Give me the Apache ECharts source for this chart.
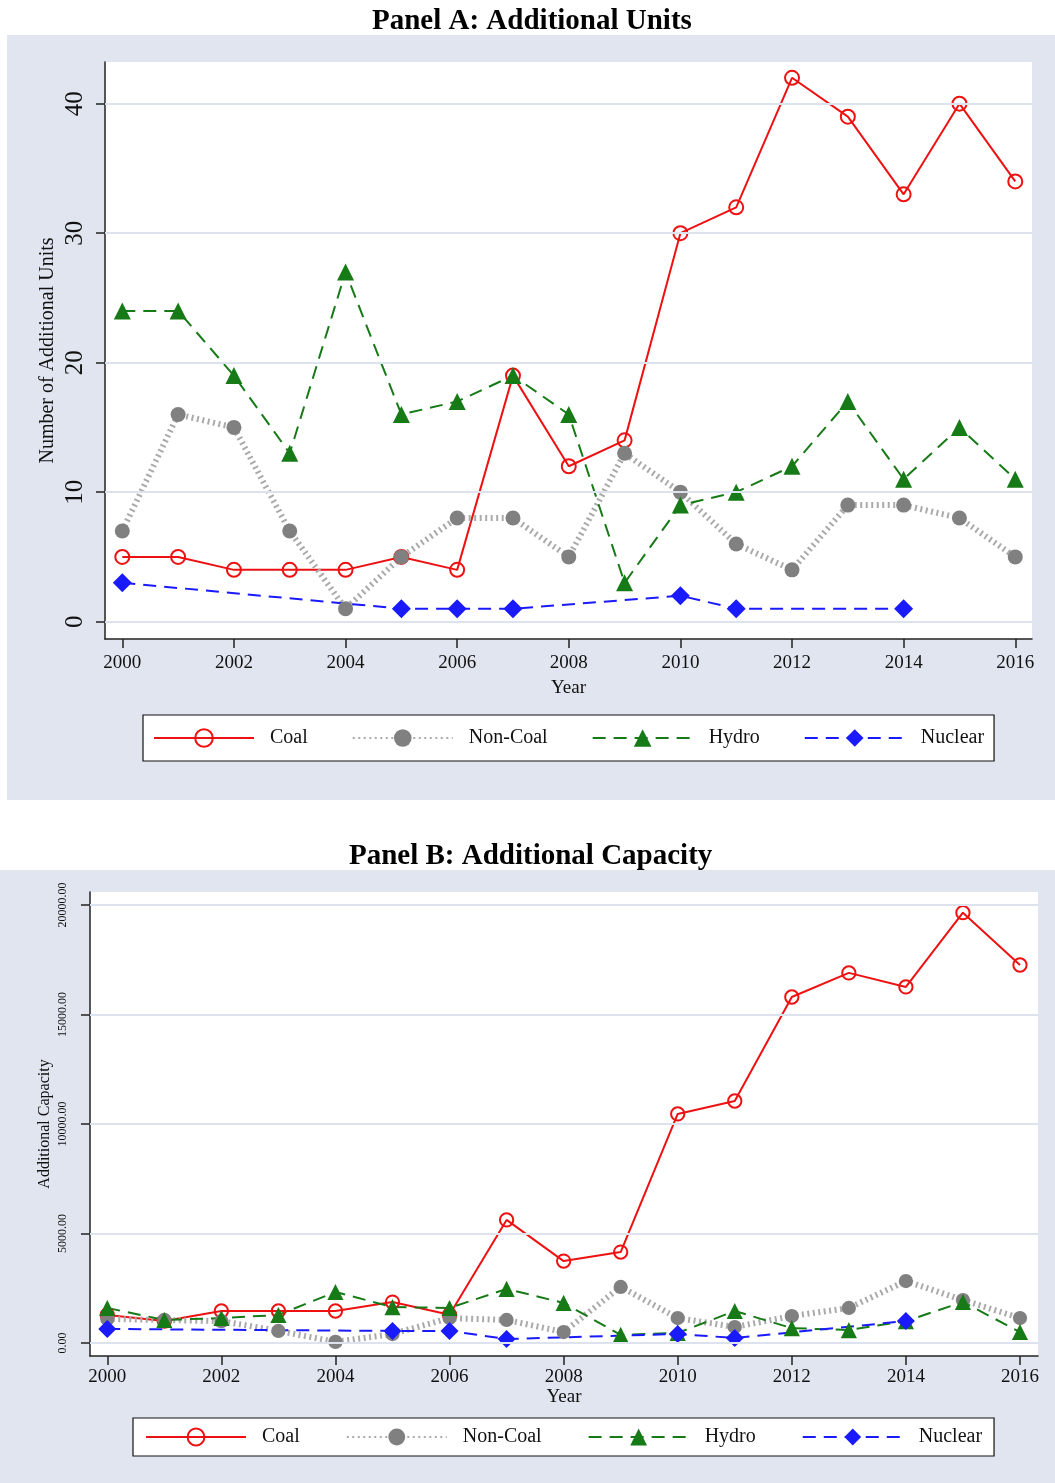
<!DOCTYPE html>
<html><head><meta charset="utf-8">
<script src="https://cdn.jsdelivr.net/npm/echarts@6/dist/echarts.min.js"></script>
<style>html,body{margin:0;padding:0;background:#fff}#c{width:1055px;height:1483px}</style>
</head><body><div id="c"></div>
<script>
const years = [2000,2001,2002,2003,2004,2005,2006,2007,2008,2009,2010,2011,2012,2013,2014,2015,2016];
const xTickLabels = [2000,2002,2004,2006,2008,2010,2012,2014,2016];
const unitsTicks = [0,10,20,30,40];
const capTicks = [0,5000,10000,15000,20000];
const seriesNames = ['Coal','Non-Coal','Hydro','Nuclear'];

// Panel A: Additional Units
const unitsCoal    = [5,5,4,4,4,5,4,19,12,14,30,32,42,39,33,40,34];
const unitsNonCoal = [7,16,15,7,1,5,8,8,5,13,10,6,4,9,9,8,5];
const unitsHydro   = [24,24,19,13,27,16,17,19,16,3,9,10,12,17,11,15,11];
const unitsNuclear = [3,null,null,null,null,1,1,1,null,null,2,1,null,null,1,null,null];

// Panel B: Additional Capacity
const capCoal    = [1280,1000,1460,1460,1460,1870,1290,5620,3740,4150,10460,11050,15800,16900,16260,19650,17260];
const capNonCoal = [1100,1050,1000,550,50,410,1140,1050,500,2560,1140,730,1230,1600,2830,1960,1140];
const capHydro   = [1600,1050,1140,1280,2330,1640,1600,2470,1830,370,460,1460,680,590,1000,1870,500];
const capNuclear = [640,null,null,null,null,550,550,180,null,null,410,230,null,null,1000,null,null];

const FONT = 'Liberation Serif';
const GRIDC = '#dde3ee';
const BG = '#e0e5ef';

function pairs(vals){ return years.map((y,i)=>[y, vals[i]]); }

function coal(idx, vals, s){ return {type:'line', name:'Coal', xAxisIndex:idx, yAxisIndex:idx, data:pairs(vals), connectNulls:true, z:3,
  symbol:'circle', symbolSize:14*s,
  itemStyle:{color:'rgba(0,0,0,0)', borderColor:'#ee1111', borderWidth:2},
  lineStyle:{color:'#ee1111', width:2, type:'solid'}}; }
function nonCoal(idx, vals, s){ return {type:'line', name:'Non-Coal', xAxisIndex:idx, yAxisIndex:idx, data:pairs(vals), connectNulls:true, z:3,
  symbol:'circle', symbolSize:15*s,
  itemStyle:{color:'#808080'},
  lineStyle:{color:'#aaaaaa', width:6, type:[2,3.5]}}; }
function hydro(idx, vals, s){ return {type:'line', name:'Hydro', xAxisIndex:idx, yAxisIndex:idx, data:pairs(vals), connectNulls:true, z:3,
  symbol:'triangle', symbolSize:17*s,
  itemStyle:{color:'#167a16'},
  lineStyle:{color:'#167a16', width:2, type:[13,8]}}; }
function nuclear(idx, vals, s){ return {type:'line', name:'Nuclear', xAxisIndex:idx, yAxisIndex:idx, data:pairs(vals), connectNulls:true, z:3,
  symbol:'diamond', symbolSize:19*s,
  itemStyle:{color:'#1a1aff'},
  lineStyle:{color:'#1a1aff', width:2, type:[13,8]}}; }

function gridLines(idx, ticks){
  return {type:'line', xAxisIndex:idx, yAxisIndex:idx, data:[], silent:true, z:1,
    markLine:{silent:true, symbol:['none','none'], label:{show:false}, animation:false,
      lineStyle:{color:GRIDC, width:2, type:'solid'},
      data: ticks.map(v=>({yAxis:v}))}};
}

function xAxis(idx, min, max, fs, margin, nameGap){
  return {type:'value', gridIndex:idx, min:min, max:max,
    axisLine:{show:true, onZero:false, lineStyle:{color:'#222', width:1.5}},
    axisTick:{show:true, length:9, customValues:xTickLabels, lineStyle:{color:'#222', width:1.5}},
    axisLabel:{customValues:xTickLabels, formatter:v=>String(v), fontFamily:FONT, fontSize:fs, color:'#111', margin:margin},
    splitLine:{show:false},
    name:'Year', nameLocation:'middle', nameGap:nameGap, nameMoveOverlap:false,
    nameTextStyle:{fontFamily:FONT, fontSize:fs, color:'#111'}};
}
function yAxis(idx, min, max, ticks, fmt, fs, margin, name, nfs, nameGap){
  return {type:'value', gridIndex:idx, min:min, max:max,
    axisLine:{show:true, lineStyle:{color:'#222', width:1.5}},
    axisTick:{show:true, length:9, customValues:ticks, lineStyle:{color:'#222', width:1.5}},
    axisLabel:{customValues:ticks, formatter:fmt, rotate:90, fontFamily:FONT, fontSize:fs, color:'#111', margin:margin},
    splitLine:{show:false},
    name:name, nameLocation:'middle', nameGap:nameGap, nameRotate:90, nameMoveOverlap:false,
    nameTextStyle:{fontFamily:FONT, fontSize:nfs, color:'#111'}};
}

function legend(left, top, fs, padH, padV, ih, gap){
  return {data:seriesNames, left:left, top:top, orient:'horizontal',
    itemWidth:100, itemHeight:ih, itemGap:gap, padding:[padV,padH,padV,padH],
    backgroundColor:'#fff', borderColor:'#111', borderWidth:1.2, selectedMode:false,
    textStyle:{fontFamily:FONT, fontSize:fs, color:'#111', padding:[0,0,0,11]}};
}

const chart = echarts.init(document.getElementById('c'), null, {renderer:'canvas'});
chart.setOption({
  animation:false,
  backgroundColor:'#ffffff',
  graphic:[
    {type:'rect', z:-10, shape:{x:7, y:35, width:1048, height:765}, style:{fill:BG}},
    {type:'rect', z:-10, shape:{x:0, y:870, width:1055, height:613}, style:{fill:BG}}
  ],
  title:[
    {text:'Panel A: Additional Units', left:372, top:7, padding:0,
      textStyle:{fontFamily:FONT, fontWeight:'bold', fontSize:29, color:'#000'}},
    {text:'Panel B: Additional Capacity', left:349, top:842, padding:0,
      textStyle:{fontFamily:FONT, fontWeight:'bold', fontSize:29, color:'#000'}}
  ],
  grid:[
    {left:105, top:62, width:927, height:577, show:true, backgroundColor:'#fff', borderWidth:0},
    {left:90, top:892, width:948, height:464, show:true, backgroundColor:'#fff', borderWidth:0}
  ],
  xAxis:[
    xAxis(0, 1999.69, 2016.30, 19, 15, 40),
    xAxis(1, 1999.697, 2016.316, 19, 12, 32)
  ],
  yAxis:[
    yAxis(0, -1.34, 43.22, unitsTicks, v=>String(v), 25, 17, 'Number of Additional Units', 20, 47),
    yAxis(1, -594, 20594, capTicks, v=>v.toFixed(2), 12, 21, 'Additional Capacity', 16, 37)
  ],
  legend:[
    legend(143, 715, 20, 10, 13, 22, 44),
    legend(133, 1418, 20, 12, 9, 21, 46)
  ],
  series:[
    gridLines(0, unitsTicks),
    coal(0, unitsCoal, 1), nonCoal(0, unitsNonCoal, 1), hydro(0, unitsHydro, 1), nuclear(0, unitsNuclear, 1),
    gridLines(1, capTicks),
    coal(1, capCoal, 0.95), nonCoal(1, capNonCoal, 0.95), hydro(1, capHydro, 0.95), nuclear(1, capNuclear, 0.95)
  ]
});
</script></body></html>
